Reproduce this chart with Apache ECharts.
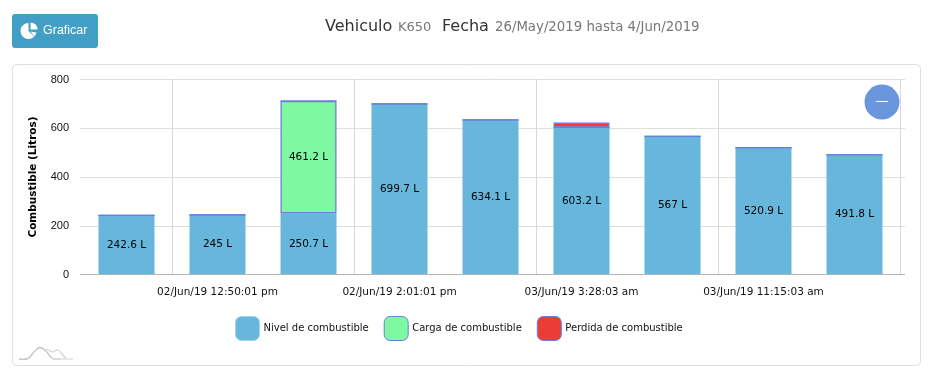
<!DOCTYPE html>
<html>
<head>
<meta charset="utf-8">
<style>html,body{margin:0;padding:0;background:#fff}#c{width:931px;height:373px}</style>
<script src="https://cdn.jsdelivr.net/npm/echarts@6/dist/echarts.min.js"></script>
</head>
<body>
<div id="c"></div>
<script>
const categories = ['', '02/Jun/19 12:50:01 pm', '', '02/Jun/19 2:01:01 pm', '', '03/Jun/19 3:28:03 am', '', '03/Jun/19 11:15:03 am', ''];
const nivel = [242.6, 245, 250.7, 699.7, 634.1, 603.2, 567, 520.9, 491.8];
const carga = [0, 0, 461.2, 0, 0, 0, 0, 0, 0];
const perdida = [0, 0, 0, 0, 0, 20, 0, 0, 0];
const yTicks = [0, 200, 400, 600, 800];

const FONT = '"DejaVu Sans", sans-serif';
const chart = echarts.init(document.getElementById('c'), null, {renderer: 'canvas'});
const barLabel = {
  show: true, position: 'inside', color: '#000', fontFamily: FONT, fontSize: 10.5,
  formatter: p => p.value > 100 ? p.value + ' L' : ''
};
const seriesBase = {type: 'bar', stack: 'total', xAxisIndex: 1, yAxisIndex: 1, barWidth: 56, label: barLabel};
chart.setOption({
  animation: false,
  backgroundColor: '#fff',
  textStyle: {fontFamily: FONT},
  legend: {
    left: 235, top: 316, padding: 0, itemWidth: 24, itemHeight: 24, itemGap: 15, icon: 'roundRect', selectedMode: false,
    itemStyle: {borderWidth: 1},
    textStyle: {fontFamily: FONT, fontSize: 10, color: '#111', padding: [0, 0, 0, -1]},
    data: ['Nivel de combustible', 'Carga de combustible', 'Perdida de combustible']
  },
  grid: [
    {left: 80, width: 825, top: 79.5, height: 195},
    {left: 81, width: 819, top: 79.5, height: 195}
  ],
  xAxis: [
    {gridIndex: 0, type: 'category', data: [''], show: false},
    {
      gridIndex: 1, type: 'category', data: categories,
      axisLine: {show: false},
      axisTick: {show: false},
      axisLabel: {interval: (i) => i % 2 === 1, color: '#111', fontFamily: FONT, fontSize: 10.5, margin: 12},
      splitLine: {show: true, interval: (i) => i % 2 === 1, lineStyle: {color: '#d8d8d8', width: 1}}
    }
  ],
  yAxis: [
    {
      gridIndex: 0, type: 'value', min: 0, max: 800, interval: 200,
      name: 'Combustible (Litros)', nameLocation: 'middle', nameGap: 41, nameRotate: 90,
      nameTextStyle: {fontFamily: FONT, fontSize: 10.5, fontWeight: 'bold', color: '#000'},
      axisLine: {show: false}, axisTick: {show: false},
      axisLabel: {color: '#111', fontFamily: '"Liberation Sans", sans-serif', fontSize: 11, margin: 11,
        formatter: v => yTicks.includes(v) ? String(v) : ''},
      splitLine: {show: true, lineStyle: {color: '#dedede', width: 1}}
    },
    {gridIndex: 1, type: 'value', min: 0, max: 800, interval: 200, show: false}
  ],
  series: [
    {...seriesBase, name: 'Nivel de combustible', data: nivel,
      itemStyle: {color: '#67b7dc', borderColor: '#a3d3ee', borderWidth: 0}},
    {...seriesBase, name: 'Carga de combustible', data: carga,
      itemStyle: {color: '#7ef9a2', borderColor: '#6a7fdc', borderWidth: 1.3}},
    {...seriesBase, name: 'Perdida de combustible', data: perdida,
      itemStyle: {color: '#ea3d36', borderColor: '#6a7fdc', borderWidth: 1.3}}
  ],
  graphic: [
    // baseline
    {type: 'line', z: 5, shape: {x1: 80, y1: 274.5, x2: 905, y2: 274.5}, style: {stroke: '#b5b5b5', lineWidth: 1}},
    // card
    {type: 'rect', z: -10, shape: {x: 12.5, y: 64.5, width: 908, height: 301, r: 4},
      style: {fill: '#fff', stroke: '#dedede', lineWidth: 1}},
    // button
    {type: 'rect', z: 5, shape: {x: 12, y: 14, width: 86, height: 34, r: 3}, style: {fill: '#419fc6'}},
    {type: 'sector', z: 6, shape: {cx: 28.5, cy: 31, r0: 0, r: 8, startAngle: Math.PI * 0.25, endAngle: Math.PI * 1.5}, style: {fill: '#fff'}},
    {type: 'sector', z: 6, shape: {cx: 30.5, cy: 29.5, r0: 0, r: 7, startAngle: -Math.PI / 2, endAngle: 0}, style: {fill: '#fff'}},
    {type: 'sector', z: 6, shape: {cx: 30.5, cy: 31.5, r0: 0, r: 6, startAngle: 0.15, endAngle: Math.PI * 0.3}, style: {fill: '#fff'}},
    {type: 'text', z: 6, x: 43, y: 31, style: {text: 'Graficar', fill: '#fff', font: '12.5px "Liberation Sans", sans-serif', verticalAlign: 'middle'}},
    // header
    {type: 'text', x: 325, y: 27, style: {text: 'Vehiculo', fill: '#333', font: '16px "DejaVu Sans", sans-serif', verticalAlign: 'middle'}},
    {type: 'text', x: 398, y: 28, style: {text: 'K650', fill: '#777', font: '13px "DejaVu Sans", sans-serif', verticalAlign: 'middle'}},
    {type: 'text', x: 442, y: 27, style: {text: 'Fecha', fill: '#333', font: '16px "DejaVu Sans", sans-serif', verticalAlign: 'middle'}},
    {type: 'text', x: 495, y: 28, style: {text: '26/May/2019 hasta 4/Jun/2019', fill: '#777', font: '13.3px "DejaVu Sans", sans-serif', verticalAlign: 'middle'}},
    // collapse button
    {type: 'circle', z: 20, shape: {cx: 882, cy: 102, r: 17.5}, style: {fill: '#6a96de'}},
    {type: 'line', z: 21, shape: {x1: 876, y1: 101.5, x2: 888, y2: 101.5}, style: {stroke: '#fff', lineWidth: 1}},
    // logo mark
    {type: 'polyline', z: 5, shape: {smooth: 0.4, points: [[19, 359], [28, 358.5], [34, 352], [40, 347.5], [46, 351], [52, 358], [60, 359]]}, style: {stroke: '#c6c6c6', fill: 'none', lineWidth: 1.4}},
    {type: 'polyline', z: 5, shape: {smooth: 0.4, points: [[44, 351], [48, 349.5], [52, 352], [58, 350], [62, 354], [66, 358.5]]}, style: {stroke: '#d2d2d2', fill: 'none', lineWidth: 1.2}},
    {type: 'line', z: 5, shape: {x1: 52, y1: 359, x2: 73, y2: 359}, style: {stroke: '#dcdcdc', lineWidth: 1.4}}
  ]
});
</script>
</body>
</html>
